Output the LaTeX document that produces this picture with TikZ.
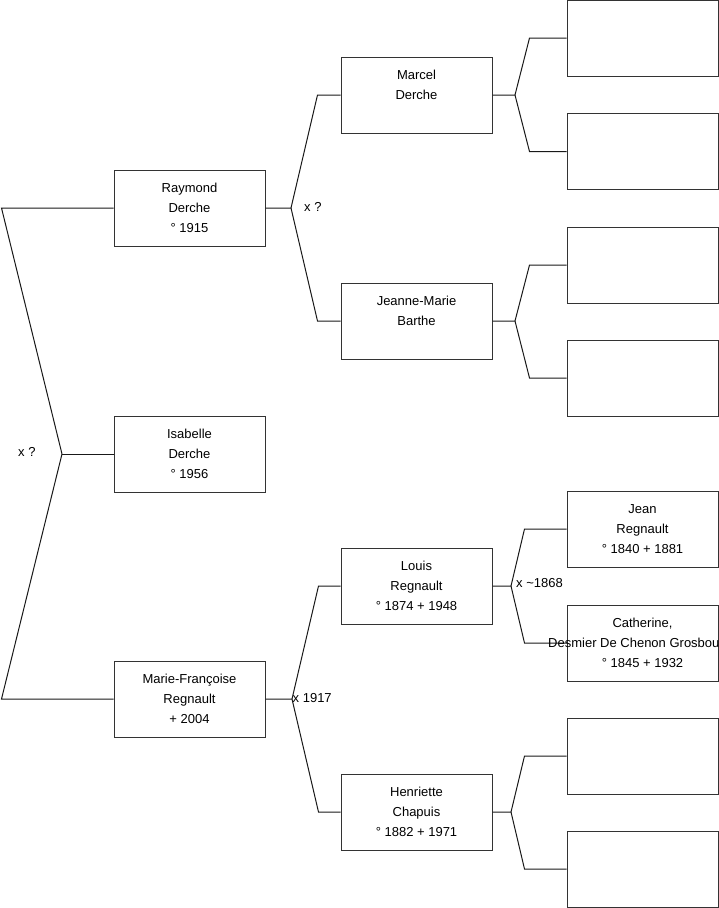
\documentclass[tikz,border=0pt]{standalone}
\usepackage{fontspec}
\setmainfont{Liberation Sans}
\begin{document}
\begin{tikzpicture}[x=1pt,y=-1pt,
    person/.style={draw=black!80,line width=1pt,rectangle,minimum width=151pt,minimum height=76pt,
      inner sep=0pt,align=center,font=\fontsize{13}{20}\selectfont},
    union/.style={anchor=base west,inner sep=0pt,font=\fontsize{13}{20}\selectfont},
    link/.style={draw=black!90,line width=1pt}]
  \useasboundingbox (0,0) rectangle (719,908);
  % first and second generation
  \node[person] (raymond) at (189.5,208) {Raymond\\Derche\\° 1915};
  \node[person] (isabelle) at (189.5,454) {Isabelle\\Derche\\° 1956};
  \node[person] (mariefr) at (189.5,699) {Marie-Françoise\\Regnault\\+ 2004};
  \node[person] (marcel) at (416.5,95) {Marcel\\Derche\\\mbox{}};
  \node[person] (jeannemarie) at (416.5,321) {Jeanne-Marie\\Barthe\\\mbox{}};
  \node[person] (louis) at (416.5,586) {Louis\\Regnault\\° 1874 + 1948};
  \node[person] (henriette) at (416.5,812) {Henriette\\Chapuis\\° 1882 + 1971};
  % great-grandparents
  \node[person] (jean) at (642.5,529) {Jean\\Regnault\\° 1840 + 1881};
  \node[person] (catherine) at (642.5,643) {Catherine,\\\mbox{}\\° 1845 + 1932};
  \foreach \n/\y in {gp1/38, gp2/151.5, gp3/265, gp4/378, gp7/756, gp8/869}
    { \node[person] (\n) at (642.5,\y) {}; }
  % fork points
  \coordinate (fkisa) at (62,454);
  \coordinate (fkray) at (291,208);
  \coordinate (fkmf) at (292,699);
  \coordinate (fkmar) at (515,95);
  \coordinate (fkjm) at (515,321);
  \coordinate (fklou) at (511,586);
  \coordinate (fkhen) at (511,812);
  % connectors
  \draw[link] (isabelle.west) -- (fkisa);
  \draw[link] (fkisa) -- ([xshift=-112pt]raymond.west) -- (raymond.west);
  \draw[link] (fkisa) -- ([xshift=-112pt]mariefr.west) -- (mariefr.west);
  \draw[link] (raymond.east) -- (fkray) -- ([xshift=-23pt]marcel.west) -- (marcel.west);
  \draw[link] (fkray) -- ([xshift=-23pt]jeannemarie.west) -- (jeannemarie.west);
  \draw[link] (mariefr.east) -- (fkmf) -- ([xshift=-22pt]louis.west) -- (louis.west);
  \draw[link] (fkmf) -- ([xshift=-22pt]henriette.west) -- (henriette.west);
  \draw[link] (marcel.east) -- (fkmar) -- ([xshift=-37pt]gp1.west) -- (gp1.west);
  \draw[link] (fkmar) -- ([xshift=-37pt]gp2.west) -- (gp2.west);
  \draw[link] (jeannemarie.east) -- (fkjm) -- ([xshift=-37pt]gp3.west) -- (gp3.west);
  \draw[link] (fkjm) -- ([xshift=-37pt]gp4.west) -- (gp4.west);
  \draw[link] (louis.east) -- (fklou) -- ([xshift=-42pt]jean.west) -- (jean.west);
  \draw[link] (fklou) -- ([xshift=-42pt]catherine.west) -- (catherine.west);
  \draw[link] (henriette.east) -- (fkhen) -- ([xshift=-42pt]gp7.west) -- (gp7.west);
  \draw[link] (fkhen) -- ([xshift=-42pt]gp8.west) -- (gp8.west);
  % overflowing surname
  \node[union] (catsurname) at (548,647) {Desmier De Chenon Grosbou};
  % marriages
  \node[union] (uisa) at (18,456.5) {x ?};
  \node[union] (uray) at (304,211.5) {x ?};
  \node[union] (umf) at (292.5,702) {x 1917};
  \node[union] (ulou) at (516,587.5) {x \textasciitilde1868};
\end{tikzpicture}
\end{document}
